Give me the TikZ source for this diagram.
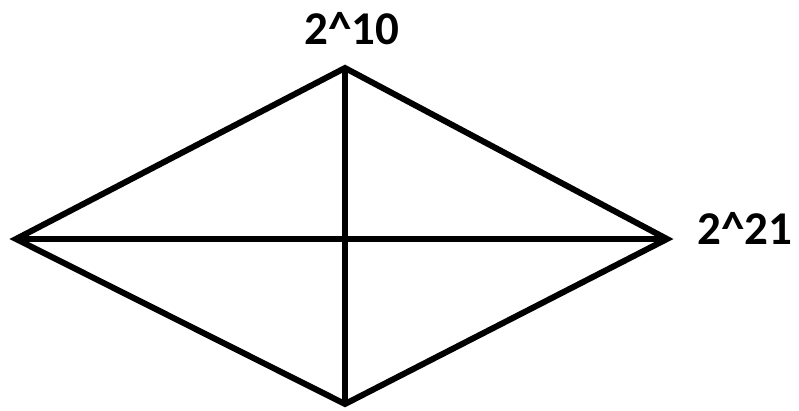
\documentclass[tikz,border=0pt]{standalone}
\usepackage{fontspec}
\setmainfont{Carlito}
\begin{document}
\begin{tikzpicture}[x=1pt,y=-1pt,
  edge/.style={line width=6pt,black},
  lbl/.style={font=\fontsize{47}{47}\selectfont\bfseries,inner sep=0pt}]
\useasboundingbox (0,0) rectangle (799,411);
\coordinate (T) at (345,68);
\coordinate (L) at (16,239);
\coordinate (R) at (667,239);
\coordinate (B) at (345,404);
\draw[edge] (T) -- (R) -- (B) -- (L) -- cycle;
\draw[edge] (L) -- (R);
\draw[edge] (T) -- (B);
\node[lbl,anchor=base] (t1) at (352,45) {2\textasciicircum10};
\node[lbl,anchor=base] (t2) at (745,245) {2\textasciicircum21};
\end{tikzpicture}
\end{document}
